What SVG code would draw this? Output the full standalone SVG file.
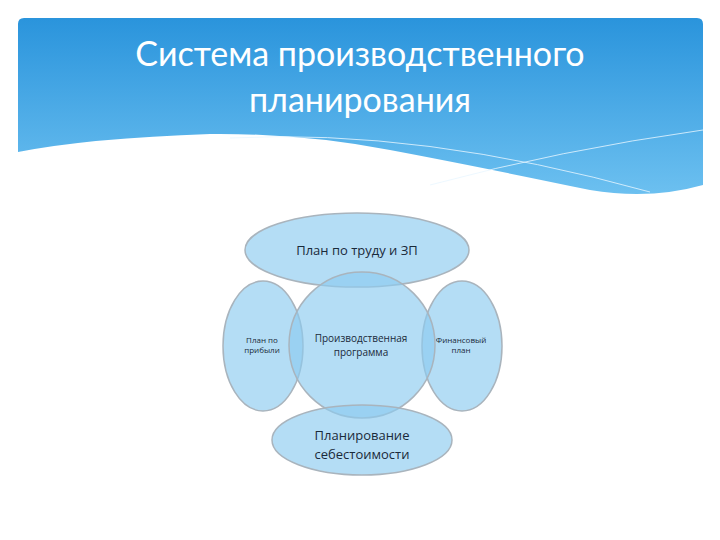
<svg xmlns="http://www.w3.org/2000/svg" width="720" height="540" viewBox="0 0 720 540">
<defs>
<linearGradient id="bg" x1="0" y1="0" x2="0" y2="1"><stop offset="0" stop-color="#2a94dc"/><stop offset="1" stop-color="#6cc0f0"/></linearGradient>
<style>.n{fill:#8ccbf0;fill-opacity:0.65;stroke:#a9b4bd;stroke-width:1.5}.t{font-family:"Open Sans","DejaVu Sans",sans-serif;fill:#1a2a3a;text-anchor:middle}</style>
</defs>
<rect width="720" height="540" fill="#fff"/>
<path d="M18,24 Q18,18 24,18 H697 Q703,18 703,24 V185 Q650,200 590,190 Q470,165 390,150 Q300,133 210,134 Q90,138 18,152 Z" fill="url(#bg)"/>
<path d="M230,138 Q420,128 650,192 M430,185 Q560,150 703,130" fill="none" stroke="#e8f6ff" stroke-width="1" opacity="0.8"/>
<text x="360" y="66" font-family="Lato,'Open Sans',sans-serif" font-size="34" fill="#fff" text-anchor="middle">Система производственного</text>
<text x="360" y="112" font-family="Lato,'Open Sans',sans-serif" font-size="34" fill="#fff" text-anchor="middle">планирования</text>
<g id="top"><ellipse class="n" cx="357" cy="250" rx="112" ry="37"/><text class="t" x="357" y="255" font-size="13">План по труду и ЗП</text></g>
<g id="left"><ellipse class="n" cx="263" cy="346" rx="40" ry="65"/><text class="t" x="262" y="343" font-size="8">План по</text><text class="t" x="262" y="353" font-size="8">прибыли</text></g>
<g id="right"><ellipse class="n" cx="462" cy="346" rx="40" ry="65"/><text class="t" x="461" y="343" font-size="8">Финансовый</text><text class="t" x="461" y="353" font-size="8">план</text></g>
<g id="center"><circle class="n" cx="362" cy="345" r="73"/><text class="t" x="361" y="342" font-size="10">Производственная</text><text class="t" x="361" y="356" font-size="10">программа</text></g>
<g id="bottom"><ellipse class="n" cx="362" cy="440" rx="90" ry="35"/><text class="t" x="362" y="440" font-size="13">Планирование</text><text class="t" x="362" y="459" font-size="13">себестоимости</text></g>
<g id="connectors"/>
</svg>
